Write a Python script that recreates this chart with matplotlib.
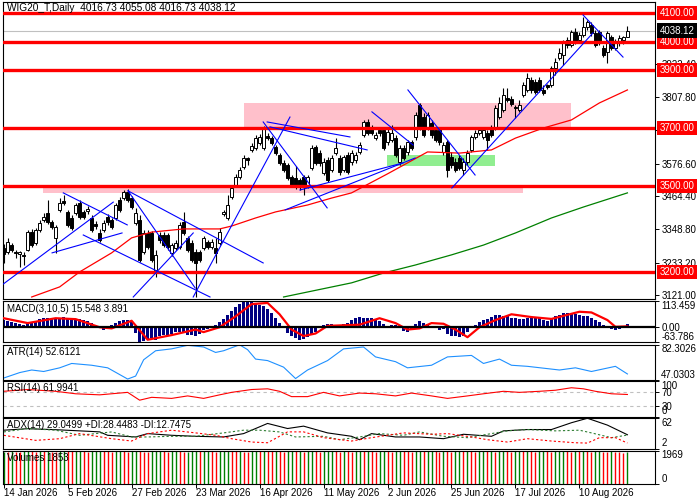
import numpy as np
import matplotlib
matplotlib.use("Agg")
import matplotlib.pyplot as plt
from matplotlib.patches import Rectangle

plt.rcParams['font.family'] = ['Liberation Sans', 'DejaVu Sans']
plt.rcParams['font.size'] = 7

# ---- price data (daily candles, bar 0 = 14 Jan 2026) ----
opens = [
    3284, 3270, 3294, 3270, 3263, 3259, 3277, 3339, 3301, 3346,
    3381, 3406, 3374, 3318, 3416, 3447, 3409, 3388, 3406, 3440,
    3409, 3412, 3388, 3367, 3336, 3346, 3392, 3381, 3388, 3451,
    3457, 3478, 3457, 3371, 3381, 3270, 3336, 3336, 3207, 3329,
    3329, 3329, 3266, 3284, 3287, 3374, 3318, 3301, 3270, 3270,
    3284, 3304, 3287, 3284, 3301, 3402, 3388, 3461, 3502, 3530,
    3565, 3597, 3624, 3631, 3648, 3631, 3672, 3665, 3634, 3607,
    3579, 3572, 3530, 3527, 3520, 3530, 3502, 3562, 3634, 3614,
    3544, 3590, 3555, 3614, 3597, 3555, 3607, 3583, 3590, 3617,
    3676, 3721, 3704, 3665, 3693, 3693, 3652, 3659, 3665, 3583,
    3631, 3617, 3652, 3669, 3780, 3738, 3700, 3718, 3693, 3693,
    3617, 3652, 3600, 3583, 3597, 3555, 3583, 3624, 3669, 3683,
    3669, 3683, 3700, 3700, 3738, 3763, 3804, 3801, 3773, 3763,
    3815, 3832, 3867, 3860, 3867, 3832, 3849, 3849, 3908, 3943,
    3953, 4005, 3988, 4033, 4005, 4023, 4050, 4057, 4030, 4033,
    3978, 3964, 4016, 3978, 3995, 4005, 4016.73,
]
highs = [
    3298, 3318, 3301, 3277, 3273, 3270, 3346, 3350, 3353, 3381,
    3406, 3451, 3381, 3364, 3457, 3468, 3416, 3399, 3440, 3451,
    3416, 3430, 3399, 3378, 3350, 3381, 3402, 3388, 3440, 3461,
    3485, 3488, 3464, 3423, 3399, 3346, 3346, 3343, 3277, 3339,
    3339, 3336, 3301, 3311, 3374, 3409, 3325, 3311, 3280, 3277,
    3325, 3311, 3315, 3318, 3353, 3416, 3468, 3502, 3541, 3565,
    3607, 3600, 3648, 3676, 3679, 3707, 3683, 3672, 3641, 3614,
    3590, 3579, 3537, 3569, 3527, 3537, 3537, 3641, 3641, 3624,
    3597, 3600, 3607, 3665, 3607, 3607, 3617, 3624, 3617, 3652,
    3728, 3731, 3711, 3686, 3704, 3700, 3697, 3711, 3676, 3641,
    3641, 3659, 3659, 3756, 3787, 3752, 3756, 3728, 3700, 3704,
    3652, 3659, 3617, 3597, 3607, 3597, 3624, 3676, 3693, 3704,
    3704, 3693, 3711, 3780, 3808, 3839, 3839, 3811, 3780, 3797,
    3860, 3891, 3877, 3870, 3877, 3849, 3853, 3915, 3943, 3978,
    4005, 4016, 4040, 4047, 4033, 4085, 4074, 4068, 4040, 4040,
    3988, 4037, 4023, 4009, 4023, 4019, 4055.08,
]
lows = [
    3231, 3263, 3270, 3249, 3217, 3224, 3273, 3287, 3294, 3339,
    3374, 3367, 3350, 3266, 3409, 3433, 3357, 3346, 3399, 3385,
    3385, 3402, 3339, 3350, 3304, 3339, 3364, 3350, 3381, 3409,
    3451, 3444, 3419, 3364, 3235, 3263, 3280, 3235, 3182, 3301,
    3287, 3277, 3256, 3277, 3280, 3329, 3270, 3235, 3113, 3235,
    3277, 3280, 3280, 3231, 3294, 3395, 3381, 3454, 3495, 3523,
    3558, 3572, 3617, 3624, 3641, 3624, 3659, 3641, 3607, 3572,
    3548, 3520, 3495, 3488, 3485, 3468, 3492, 3555, 3572, 3569,
    3537, 3513, 3548, 3607, 3537, 3548, 3541, 3572, 3579, 3610,
    3669, 3676, 3676, 3659, 3672, 3624, 3641, 3652, 3600, 3572,
    3590, 3607, 3624, 3659, 3693, 3669, 3693, 3665, 3652, 3641,
    3607, 3530, 3562, 3548, 3555, 3537, 3572, 3617, 3662, 3676,
    3662, 3624, 3669, 3693, 3731, 3756, 3790, 3776, 3735, 3756,
    3808, 3825, 3822, 3818, 3825, 3815, 3835, 3842, 3884, 3936,
    3919, 3978, 3981, 3991, 3995, 4016, 4040, 4019, 3981, 3988,
    3946, 3926, 3971, 3971, 3985, 3991, 4016.73,
]
closes = [
    3263, 3304, 3277, 3266, 3270, 3256, 3339, 3294, 3346, 3371,
    3392, 3374, 3357, 3357, 3440, 3440, 3364, 3353, 3433, 3392,
    3392, 3419, 3346, 3360, 3311, 3371, 3374, 3357, 3433, 3416,
    3478, 3451, 3426, 3406, 3242, 3336, 3287, 3242, 3259, 3311,
    3294, 3287, 3294, 3301, 3364, 3336, 3277, 3242, 3231, 3242,
    3318, 3287, 3304, 3266, 3339, 3409, 3433, 3492, 3530, 3555,
    3597, 3590, 3638, 3665, 3669, 3700, 3665, 3648, 3614, 3579,
    3555, 3527, 3502, 3495, 3495, 3495, 3530, 3631, 3579, 3579,
    3583, 3520, 3597, 3631, 3548, 3600, 3548, 3614, 3607, 3641,
    3721, 3683, 3683, 3676, 3683, 3631, 3686, 3683, 3607, 3631,
    3597, 3652, 3631, 3745, 3704, 3676, 3745, 3676, 3659, 3652,
    3641, 3555, 3572, 3555, 3562, 3583, 3614, 3669, 3683, 3693,
    3693, 3659, 3676, 3770, 3787, 3815, 3797, 3783, 3770, 3780,
    3849, 3874, 3832, 3825, 3832, 3822, 3842, 3908, 3929, 3960,
    3995, 3988, 4033, 3998, 4023, 4050, 4068, 4030, 3988, 3995,
    3953, 4030, 3978, 3998, 4012, 4016, 4038.12,
]

date_ticks = [0, 16, 32, 48, 64, 80, 96, 112, 128, 144]
date_labels = ["14 Jan 2026", "5 Feb 2026", "27 Feb 2026", "23 Mar 2026", "16 Apr 2026",
               "11 May 2026", "2 Jun 2026", "25 Jun 2026", "17 Jul 2026", "10 Aug 2026"]

# moving averages (bar index, value)
ma_red_x = [7, 14, 19, 27, 32, 37, 45, 54, 57, 63, 68, 76, 82, 87, 96, 106, 114, 122, 128, 135, 142, 149, 156]
ma_red_y = [3114, 3149, 3201, 3267, 3319, 3339, 3350, 3350, 3360, 3388, 3409, 3433, 3457, 3475,
            3541, 3617, 3613, 3624, 3665, 3700, 3728, 3787, 3832]
ma_green_x = [70, 87, 95, 103, 112, 120, 128, 137, 145, 156]
ma_green_y = [3114, 3163, 3197, 3225, 3260, 3294, 3336, 3388, 3426, 3475]

# horizontal levels and zones
levels = [4100, 4000, 3900, 3700, 3500, 3200]
last_price = 4038.12
zone_x0 = [60, 9.9, 95.8]
zone_x1 = [142, 130, 122.9]
zone_lo = [3700, 3474, 3567]
zone_hi = [3787, 3500, 3607]
zone_col = ["pink", "pink", "lightgreen"]

# manual trend lines: (bar0, price0, bar1, price1)
trend_lines = [
    (-0.1, 3159, 27.4, 3443), (12.1, 3267, 29.6, 3336), (14.9, 3475, 30.9, 3364),
    (31.1, 3482, 64.9, 3232), (19.9, 3329, 51.6, 3114), (31.1, 3482, 47.9, 3145),
    (32.4, 3114, 47.4, 3336), (47.4, 3114, 71.6, 3738), (65.9, 3721, 86.6, 3669),
    (64.9, 3721, 80.9, 3423), (70.4, 3416, 102.9, 3596), (74.1, 3485, 99.9, 3579),
    (66.6, 3704, 90.9, 3624), (92.1, 3756, 102.4, 3641), (101.1, 3832, 117.9, 3537),
    (112.1, 3492, 147.4, 4030), (144.9, 4092, 154.9, 3946),
]
price_ticks = [3922.40, 3807.80, 3692.20, 3576.60, 3464.40, 3348.80, 3233.20, 3121.00]

# ---- indicators ----
macd_hist = [
    30, 25, 22, 18, 12, 10, 24, 20, 28, 34, 38,
    42, 35, 36, 40, 44, 38, 30, 32, 34, 30, 28, 18,
    6, -4, -10, -2, 8, 20, 26, 30, 32,
    22, -25, -64, -60, -52, -45, -55, -40, -35,
    -38, -30, -20, -22, -25, -32, -35, -40, -28, -12, -8, 2,
    10, 22, 35, 52, 70, 88, 100, 108, 113, 110, 104, 96, 90, 80, 62, 40, 18, -5,
    -25, -40, -48, -55, -50, -42, -30, -20, -5, 10,
    15, 12, 8, 5, 14, 20, 30, 40, 45, 40,
    42, 38, 30, 25, 15, 5, 10, 8, -5, -15,
    -20, -12, 15, 28, 20, 12, 5, -2, -10, -8,
    -30, -38, -40, -42, -36, -22, -5, 10, 22, 30,
    35, 45, 55, 52, 50, 48, 42, 38, 36, 34,
    40, 45, 42, 38, 30, 28, 35, 48, 55, 60,
    62, 60, 58, 55, 50, 48, 40, 30, 22, 8,
    4, -8, -10, -6, -4, 15.548,
]
macd_sig_x = [0, 6, 13, 18, 24, 27, 32, 36, 42, 48, 50, 54, 58, 62, 66, 69, 72, 75, 78, 81,
              89, 94, 98, 101, 104, 107, 110, 113, 116, 119, 123, 127, 132, 137, 144, 147, 151, 153, 156]
macd_sig_y = [39, 18, 39, 35, 0, -5, 28, -54, -34, -10, -21, 0, 47, 100, 105, 56, -10, -38, -27, 6,
              11, 39, 18, -10, -5, 18, 15, -10, -43, 0, 31, 56, 44, 36, 67, 64, 31, 2, 3.891]

atr_x = [0, 4, 7, 10, 14, 17, 22, 26, 31, 33, 35, 38, 42, 46, 50, 53, 55, 59, 61, 63, 66,
         70, 73, 76, 81, 85, 90, 93, 98, 101, 107, 111, 117, 120, 124, 127, 131, 139, 143,
         147, 153, 156]
atr_y = [48.5, 54.0, 56.6, 55.1, 58.8, 63.2, 61.4, 58.8, 47.5, 50.5, 66.9, 76.0, 77.9, 81.5,
         79.8, 74.3, 76.0, 82.0, 77.1, 67.6, 66.1, 59.5, 48.0, 56.6, 66.1, 77.9, 79.8, 69.8,
         65.0, 58.8, 61.4, 69.8, 71.3, 63.2, 67.6, 61.4, 60.3, 56.6, 58.8, 55.1, 60.3, 52.6121]

rsi_x = [0, 6, 13, 18, 24, 31, 34, 37, 42, 46, 50, 54, 57, 62, 66, 69, 72, 76, 80, 84, 89,
         93, 98, 102, 107, 111, 116, 120, 125, 129, 134, 138, 142, 145, 148, 152, 156]
rsi_y = [71, 76, 71, 64, 61, 68, 46, 54, 51, 58, 51, 61, 68, 76, 78, 71, 56, 56, 68, 58, 66,
         64, 58, 66, 58, 51, 58, 64, 71, 68, 71, 74, 81, 78, 71, 64, 61.9941]

adx_x = [0, 6, 13, 19, 24, 26, 33, 36, 42, 48, 55, 60, 66, 71, 75, 81, 87, 89, 92, 98, 104,
         110, 115, 122, 125, 131, 137, 142, 146, 151, 156]
adx_y = [38, 41, 39, 36.7, 34.7, 28, 24.7, 31.3, 28, 26, 24.7, 31.3, 51.3, 41.3, 46, 32.7, 26,
         19.3, 31.3, 24.7, 24.7, 21.3, 30, 26, 36.7, 39.3, 39.3, 52.7, 61.5, 48, 29.0499]
pdi_x = [0, 6, 13, 19, 27, 32, 36, 42, 48, 55, 60, 64, 69, 73, 80, 84, 89, 94, 100, 104,
         110, 116, 121, 126, 131, 138, 144, 147, 152, 156]
pdi_y = [34.6, 41.3, 38, 28, 34.6, 24.7, 24.7, 26, 26, 32.7, 38, 38, 34.6, 24.7, 26, 19.3,
         24.7, 31.3, 28, 34.6, 26, 23.3, 30, 36.7, 39.3, 36.7, 38, 32.7, 23.3, 28.4483]
mdi_x = [0, 8, 14, 19, 27, 32, 36, 42, 48, 53, 57, 62, 66, 71, 75, 80, 87, 92, 100, 107,
         111, 117, 121, 126, 131, 137, 143, 146, 149, 153, 156]
mdi_y = [28, 18, 21.3, 31.3, 21.3, 16.7, 31.3, 38, 32.7, 28, 21.3, 14.7, 13.3, 34.7, 34.7,
         23.3, 16.7, 23.3, 32.7, 30, 31.3, 24.7, 19.3, 14.7, 21.3, 16.7, 13.3, 12.7, 23.3,
         23.3, 12.7475]

volumes = [
    1902, 1888, 1931, 1876, 1859, 1910, 1944, 1921, 1897, 1935, 1912, 1950, 1883, 1869, 1925, 1958,
    1930, 1918, 1946, 1962, 1940, 1905, 1927, 1953, 1969, 1934, 1911, 1890, 1932, 1948, 1915, 1886,
    1921, 1955, 1930, 1901, 1877, 1919, 1946, 1960, 1925, 1898, 1933, 1950, 1912, 1880, 1906, 1938,
    1957, 1928, 1943, 1961, 1920, 1894, 1937, 1952, 1966, 1931, 1913, 1940, 1902, 1875, 1916, 1949,
    1926, 1958, 1933, 1910, 1945, 1921, 1890, 1934, 1960, 1927, 1944, 1905, 1938, 1954, 1918, 1888,
    1922, 1947, 1963, 1929, 1908, 1941, 1917, 1885, 1924, 1951, 1932, 1956, 1913, 1899, 1936, 1959,
    1928, 1900, 1943, 1966, 1935, 1911, 1896, 1929, 1950, 1918, 1945, 1962, 1927, 1903, 1940, 1921,
    1884, 1919, 1947, 1930, 1957, 1912, 1893, 1938, 1961, 1924, 1946, 1909, 1935, 1952, 1916, 1890,
    1928, 1955, 1937, 1964, 1922, 1901, 1933, 1949, 1915, 1882, 1920, 1942, 1958, 1926, 1904, 1939,
    1913, 1951, 1929, 1897, 1920, 1944, 1908, 1886, 1931, 1902, 1875, 1840, 1853,
]

n = len(closes)
assert len(opens) == n and len(highs) == n and len(lows) == n
assert len(macd_hist) == n and len(volumes) == n

idx = np.arange(n)
o = np.array(opens, float)
h = np.array(highs, float)
l = np.array(lows, float)
c = np.array(closes, float)

# ---- figure layout (pixel rows of the reference) ----
fig = plt.figure(figsize=(7, 5), dpi=100)
X0, X1 = 2.5, 655


def panel(top, bottom):
    return fig.add_axes([X0 / 700, 1 - bottom / 500, (X1 - X0) / 700, (bottom - top) / 500])


ax = panel(2, 299)
ax_macd = panel(301, 342)
ax_atr = panel(344.5, 379.5)
ax_rsi = panel(381, 416.5)
ax_adx = panel(418, 448.5)
ax_vol = panel(450.5, 483.5)
axes = [ax, ax_macd, ax_atr, ax_rsi, ax_adx, ax_vol]

for a in axes:
    a.set_xlim(-0.3, 162.9)
    for s in a.spines.values():
        s.set_linewidth(0.8)
        s.set_color("black")
    a.yaxis.tick_right()
    a.tick_params(axis="y", direction="out", length=3, width=0.7, pad=1.5, labelsize=7)
    a.tick_params(axis="x", bottom=False, labelbottom=False)

# ---- main chart ----
ax.set_ylim(3107, 4137)
for x0, x1, lo, hi, col in zip(zone_x0, zone_x1, zone_lo, zone_hi, zone_col):
    ax.add_patch(Rectangle((x0, lo), x1 - x0, hi - lo, facecolor=col, edgecolor="none", zorder=1))

ax.axhline(last_price, color="#c0c0c0", lw=0.8, zorder=2)

up = c >= o
body_lo = np.minimum(o, c)
body_h = np.maximum(np.abs(c - o), 1.5)
ax.vlines(idx, l, h, color="black", lw=0.8, zorder=3)
ax.bar(idx[up], body_h[up], bottom=body_lo[up], width=0.75, color="white",
       edgecolor="black", linewidth=0.7, zorder=4)
ax.bar(idx[~up], body_h[~up], bottom=body_lo[~up], width=0.75, color="black",
       edgecolor="black", linewidth=0.7, zorder=4)

ax.plot(ma_red_x, ma_red_y, color="red", lw=0.9, zorder=5)
ax.plot(ma_green_x, ma_green_y, color="green", lw=0.9, zorder=5)

for lv in levels:
    ax.axhline(lv, color="red", lw=2.4, zorder=6)

for x0, p0, x1, p1 in trend_lines:
    ax.plot([x0, x1], [p0, p1], color="blue", lw=0.8, zorder=7)

ax.set_yticks(price_ticks)
ax.set_yticklabels([f"{p:.2f}" for p in price_ticks])

ytr = ax.get_yaxis_transform()
for lv in levels:
    ax.text(1.007, lv, f"{lv:.2f}", transform=ytr, color="white", va="center", ha="left",
            fontsize=7, clip_on=False, zorder=10,
            bbox=dict(boxstyle="square,pad=0.22", fc="red", ec="none"))
ax.text(1.007, last_price, f"{last_price:.2f}", transform=ytr, color="white", va="center",
        ha="left", fontsize=7, clip_on=False, zorder=10,
        bbox=dict(boxstyle="square,pad=0.22", fc="black", ec="none"))

ax.text(0.007, 0.995, "WIG20_T,Daily  4016.73 4055.08 4016.73 4038.12", transform=ax.transAxes,
        va="top", ha="left", fontsize=7.3, color="black", zorder=11)


def edge_ticks(a, ticks, labels):
    a.set_yticks(ticks)
    a.set_yticklabels(labels)
    tl = a.get_yticklabels()
    tl[0].set_va("bottom")
    tl[-1].set_va("top")


def panel_label(a, text):
    a.text(0.007, 0.93, text, transform=a.transAxes, va="top", ha="left", fontsize=7, zorder=10)


# ---- MACD ----
ax_macd.set_ylim(-63.786, 113.459)
ax_macd.bar(idx, macd_hist, width=0.6, color="#000080", zorder=2)
ax_macd.plot(macd_sig_x, macd_sig_y, color="red", lw=1.6, zorder=3)
ax_macd.axhline(0, color="black", lw=1.6, zorder=4)
edge_ticks(ax_macd, [-63.786, 0, 113.459], ["-63.786", "0.00", "113.459"])
panel_label(ax_macd, "MACD(3,10,5) 15.548 3.891")

# ---- ATR ----
ax_atr.set_ylim(47.0303, 82.3026)
ax_atr.plot(atr_x, atr_y, color="#1e90ff", lw=0.8)
edge_ticks(ax_atr, [47.0303, 82.3026], ["47.0303", "82.3026"])
panel_label(ax_atr, "ATR(14) 52.6121")

# ---- RSI ----
ax_rsi.set_ylim(0, 100)
ax_rsi.axhline(70, color="#c0c0c0", lw=0.8, ls=(0, (3, 3)))
ax_rsi.axhline(30, color="#c0c0c0", lw=0.8, ls=(0, (3, 3)))
ax_rsi.plot(rsi_x, rsi_y, color="red", lw=0.8)
edge_ticks(ax_rsi, [0, 30, 70, 100], ["0", "30", "70", "100"])
panel_label(ax_rsi, "RSI(14) 61.9941")

# ---- ADX ----
ax_adx.set_ylim(2, 62)
ax_adx.plot(adx_x, adx_y, color="black", lw=0.8)
ax_adx.plot(pdi_x, pdi_y, color="#2e7d32", lw=0.8, ls=(0, (2, 2)))
ax_adx.plot(mdi_x, mdi_y, color="red", lw=0.8, ls=(0, (2, 2)))
edge_ticks(ax_adx, [2, 62], ["2", "62"])
panel_label(ax_adx, "ADX(14) 29.0499 +DI:28.4483 -DI:12.7475")

# ---- Volumes ----
ax_vol.set_ylim(0, 1969)
vol_col = ["green"] + ["green" if volumes[i] > volumes[i - 1] else "red" for i in range(1, n)]
ax_vol.vlines(idx, 0, volumes, colors=vol_col, lw=1.0)
edge_ticks(ax_vol, [0, 1969], ["0", "1969"])
panel_label(ax_vol, "Volumes 1853")

ax_vol.tick_params(axis="x", bottom=True, labelbottom=True, direction="out", length=3,
                   width=0.7, pad=0.5, labelsize=7)
ax_vol.set_xticks(date_ticks)
ax_vol.set_xticklabels(date_labels, ha="left")

fig.savefig("out.png", dpi=100)
